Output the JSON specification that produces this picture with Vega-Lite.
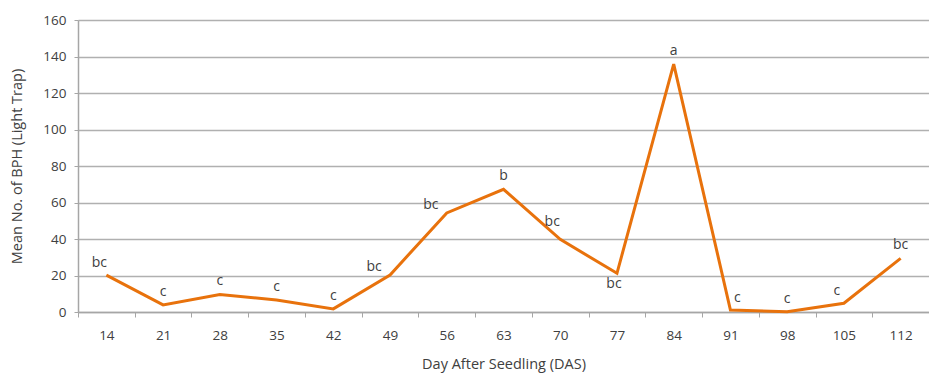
{
  "$schema": "https://vega.github.io/schema/vega-lite/v6.json",
  "autosize": "none",
  "width": 851,
  "height": 292,
  "padding": {"left": 78, "top": 20, "right": 0, "bottom": 69},
  "background": "white",
  "config": {
    "view": {"stroke": null},
    "font": "Open Sans",
    "axis": {"labelFont": "Open Sans", "titleFont": "Open Sans", "labelColor": "#404040", "titleColor": "#404040", "titleFontWeight": "normal", "domainColor": "#a6a6a6", "tickColor": "#a6a6a6", "gridColor": "#b0b0b0"}
  },
  "data": {
    "values": [
      {"DAS": "14", "BPH": 20.2, "group": "bc"},
      {"DAS": "21", "BPH": 3.9, "group": "c"},
      {"DAS": "28", "BPH": 9.6, "group": "c"},
      {"DAS": "35", "BPH": 6.6, "group": "c"},
      {"DAS": "42", "BPH": 1.7, "group": "c"},
      {"DAS": "49", "BPH": 20.3, "group": "bc"},
      {"DAS": "56", "BPH": 54.3, "group": "bc"},
      {"DAS": "63", "BPH": 67.2, "group": "b"},
      {"DAS": "70", "BPH": 39.8, "group": "bc"},
      {"DAS": "77", "BPH": 21.2, "group": "bc"},
      {"DAS": "84", "BPH": 135.8, "group": "a"},
      {"DAS": "91", "BPH": 1.1, "group": "c"},
      {"DAS": "98", "BPH": 0.2, "group": "c"},
      {"DAS": "105", "BPH": 4.8, "group": "c"},
      {"DAS": "112", "BPH": 29.4, "group": "bc"}
    ]
  },
  "encoding": {
    "x": {
      "field": "DAS", "type": "ordinal", "sort": null,
      "scale": {"paddingInner": 0, "paddingOuter": 0},
      "axis": {"title": "Day After Seedling (DAS)", "labelAngle": 0, "labelFontSize": 13.5, "titleFontSize": 14.5, "labelPadding": 11, "titlePadding": 16, "tickBand": "extent", "tickSize": 5, "grid": false, "domainWidth": 1.5}
    },
    "y": {
      "field": "BPH", "type": "quantitative",
      "scale": {"domain": [0, 160], "nice": false},
      "axis": {"title": "Mean No. of BPH (Light Trap)", "values": [0, 20, 40, 60, 80, 100, 120, 140, 160], "labelFontSize": 13.5, "titleFontSize": 14.5, "tickSize": 4, "labelPadding": 8, "titlePadding": 18, "gridWidth": 1.3, "domainWidth": 1.5}
    }
  },
  "layer": [
    {"mark": {"type": "line", "color": "#E8720C", "strokeWidth": 3}},
    {
      "transform": [{"filter": "indexof(['21','28','35','42','63','84','98','112'], datum.DAS) >= 0"}],
      "mark": {"type": "text", "baseline": "middle", "dy": -13, "fontSize": 14, "color": "#404040"},
      "encoding": {"text": {"field": "group"}}
    },
    {
      "transform": [{"filter": "datum.DAS == '14'"}],
      "mark": {"type": "text", "baseline": "middle", "dy": -12, "dx": -7, "fontSize": 14, "color": "#404040"},
      "encoding": {"text": {"field": "group"}}
    },
    {
      "transform": [{"filter": "datum.DAS == '91'"}],
      "mark": {"type": "text", "baseline": "middle", "dy": -12, "dx": 7, "fontSize": 14, "color": "#404040"},
      "encoding": {"text": {"field": "group"}}
    },
    {
      "transform": [{"filter": "datum.DAS == '105'"}],
      "mark": {"type": "text", "baseline": "middle", "dy": -12, "dx": -7, "fontSize": 14, "color": "#404040"},
      "encoding": {"text": {"field": "group"}}
    },
    {
      "transform": [{"filter": "datum.DAS == '77'"}],
      "mark": {"type": "text", "baseline": "middle", "dy": 11, "dx": -3, "fontSize": 14, "color": "#404040"},
      "encoding": {"text": {"field": "group"}}
    },
    {
      "transform": [{"filter": "datum.DAS == '56' || datum.DAS == '49'"}],
      "mark": {"type": "text", "baseline": "middle", "dy": -8, "dx": -16, "fontSize": 14, "color": "#404040"},
      "encoding": {"text": {"field": "group"}}
    },
    {
      "transform": [{"filter": "datum.DAS == '70'"}],
      "mark": {"type": "text", "baseline": "middle", "dy": -17, "dx": -8, "fontSize": 14, "color": "#404040"},
      "encoding": {"text": {"field": "group"}}
    }
  ]
}
